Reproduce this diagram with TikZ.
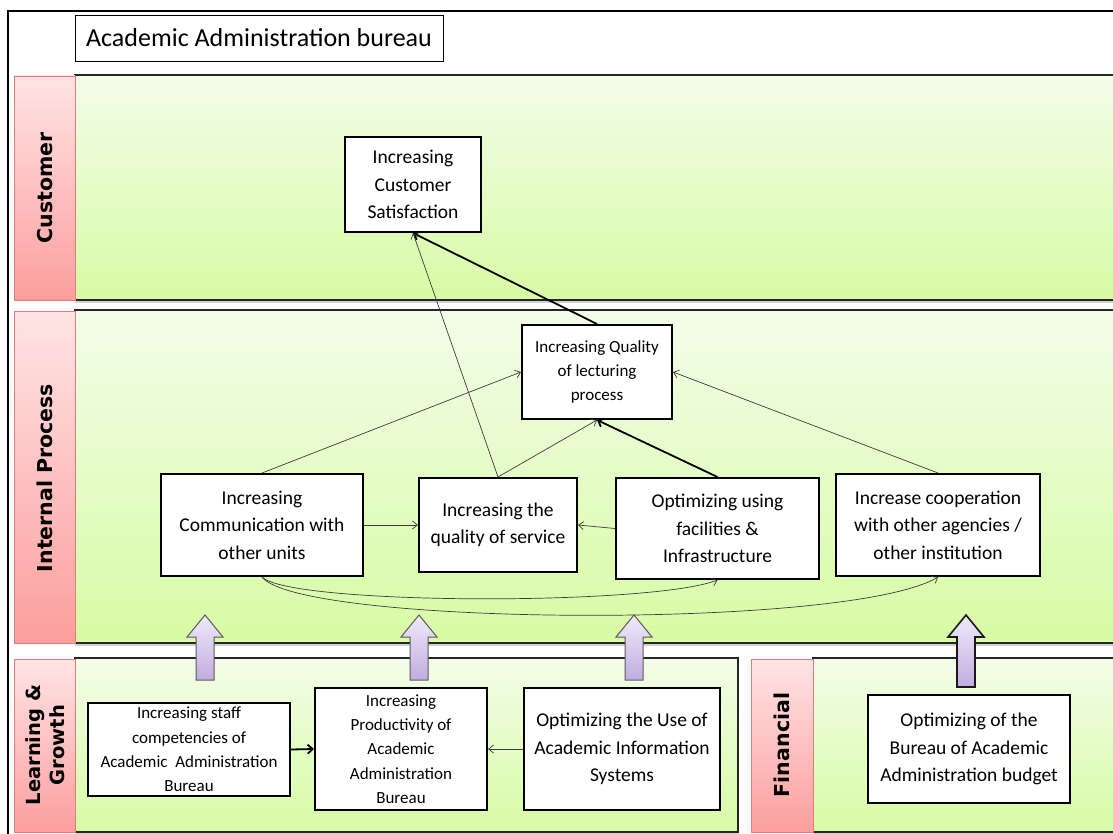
\documentclass[tikz,border=0pt]{standalone}
\usepackage{fontspec}
\setmainfont{Carlito}
\newfontfamily\lanefont{DejaVu Sans}
\usetikzlibrary{arrows.meta,shadows}

\definecolor{greenTop}{HTML}{F3FDE9}
\definecolor{greenBot}{HTML}{D8FBA4}
\definecolor{pinkTop}{HTML}{FFE4E4}
\definecolor{pinkBot}{HTML}{FC9E9E}
\definecolor{pinkEdge}{HTML}{E57B7B}
\definecolor{lilacTop}{HTML}{EFEAFA}
\definecolor{lilacBot}{HTML}{C2ACE0}
\definecolor{linkGray}{HTML}{3C3C3C}

% upward block arrow: centre x, tip y, tail y, style
\newcommand\upblockarrow[4]{%
  \path[#4] ({#1-9},#3) -- ({#1-9},{#2+22}) -- ({#1-18},{#2+22}) -- (#1,#2)
    -- ({#1+18},{#2+22}) -- ({#1+9},{#2+22}) -- ({#1+9},#3) -- cycle;}

\begin{document}
\begin{tikzpicture}[x=1pt,y=-1pt,
  band/.style={draw=black!85, line width=1.3pt, top color=greenTop, bottom color=greenBot,
    drop shadow={shadow xshift=0pt, shadow yshift=-3pt, opacity=.18, fill=black}},
  lane/.style={draw=pinkEdge, line width=0.8pt, top color=pinkTop, bottom color=pinkBot},
  lanetext/.style={font=\lanefont\bfseries\fontsize{20.5}{25}\selectfont, rotate=90, align=center},
  goal/.style={draw=black, line width=2pt, fill=white, inner sep=0pt, align=center,
    font=\fontsize{19.5}{27.5}\selectfont},
  smallgoal/.style={goal, font=\fontsize{17}{24.3}\selectfont},
  link/.style={draw=linkGray, line width=0.7pt, -{Straight Barb[length=5pt,width=8pt]}},
  strong/.style={draw=black, line width=1.8pt, -{Straight Barb[length=5pt,width=9pt]}},
  lift/.style={draw=black!65, line width=1pt, top color=lilacTop, bottom color=lilacBot},
  liftstrong/.style={draw=black!90, line width=1.6pt, top color=lilacTop, bottom color=lilacBot}]

\useasboundingbox (0,0) rectangle (1113,834);
\clip (0,0) rectangle (1113,834);

% outer frame
\draw[line width=1.8pt] (8,11) rectangle (1140,860);

% title
\node[draw=black, line width=0.9pt, fill=white, minimum width=368pt, minimum height=46pt,
  inner sep=0pt, font=\fontsize{26}{30}\selectfont] (title) at (259,38) {Academic Administration bureau};

% perspective bands
\path[band] (75,75) rectangle (1130,300);
\path[band] (75,310) rectangle (1130,643);
\path[band] (75,658) rectangle (738,832);
\path[band] (813,658) rectangle (1130,832);

\path[lane] (14,76) rectangle (75,300);
\path[lane] (14,311) rectangle (75,643);
\path[lane] (14,659) rectangle (75,832);
\path[lane] (751,659) rectangle (813,832);

\node[lanetext] (lcust) at (45,188) {Customer};
\node[lanetext] (lproc) at (45,478) {Internal Process};
\node[lanetext, font=\lanefont\bfseries\fontsize{19.5}{24}\selectfont] (lgrow) at (45,745) {Learning \&\\Growth};
\node[lanetext] (lfin) at (782,745) {Financial};

% block arrows between learning/financial and internal process
\upblockarrow{205}{615}{680}{lift}
\upblockarrow{419}{615}{680}{lift}
\upblockarrow{634}{615}{680}{lift}
\upblockarrow{966}{615}{687}{liftstrong}

% objectives
\node[goal, minimum width=136pt, minimum height=95pt] (cs) at (413,184.5)
  {Increasing\\Customer\\Satisfaction};
\node[smallgoal, minimum width=150pt, minimum height=94pt] (lec) at (597,372)
  {Increasing Quality\\of lecturing\\process};
\node[goal, minimum width=202pt, minimum height=102pt] (comm) at (262,525)
  {Increasing\\Communication with\\other units};
\node[goal, minimum width=158pt, minimum height=94pt] (svc) at (498,525)
  {Increasing the\\quality of service};
\node[goal, minimum width=203pt, minimum height=101pt] (fac) at (717.5,528.5)
  {Optimizing using\\facilities \&\\Infrastructure};
\node[goal, minimum width=204pt, minimum height=102pt] (coop) at (938,525)
  {Increase cooperation\\with other agencies /\\other institution};
\node[smallgoal, minimum width=202pt, minimum height=93pt] (staff) at (189,749.5)
  {Increasing staff\\competencies of\\Academic\ \ Administration\\Bureau};
\node[smallgoal, minimum width=172pt, minimum height=122pt] (prod) at (401,749)
  {Increasing\\Productivity of\\Academic\\Administration\\Bureau};
\node[goal, minimum width=196pt, minimum height=122pt] (info) at (622,749)
  {Optimizing the Use of\\Academic Information\\Systems};
\node[goal, minimum width=202pt, minimum height=108pt] (bud) at (969,749)
  {Optimizing of the\\Bureau of Academic\\Administration budget};

% cause-and-effect links
\draw[strong] (lec.north) -- (cs.south);
\draw[link] (svc.north) -- (cs.south);
\draw[link] (comm.north) -- (lec.west);
\draw[link] (svc.north) -- (lec.south);
\draw[strong] (fac.north) -- (lec.south);
\draw[link] (coop.north) -- (lec.east);
\draw[link] (comm.east) -- (svc.west);
\draw[link] (fac.west) -- (svc.east);
\draw[link] (comm.south) .. controls (290,605) and (650,606) .. (fac.south);
\draw[link] (comm.south) .. controls (300,626) and (850,630) .. (coop.south);
\draw[strong] (staff.east) -- (prod.west);
\draw[link] (info.west) -- (prod.east);

\end{tikzpicture}
\end{document}
